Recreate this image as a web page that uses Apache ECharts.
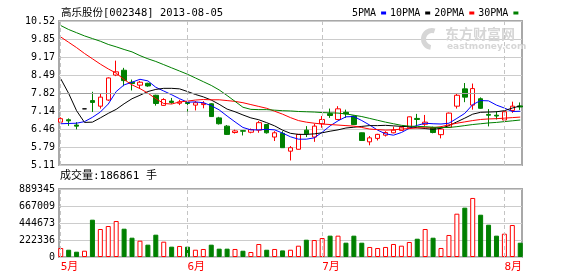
<!DOCTYPE html>
<html><head><meta charset="utf-8">
<script src="https://cdn.jsdelivr.net/npm/echarts@6/dist/echarts.min.js"></script>
<style>html,body{margin:0;padding:0;background:#fff}#c{width:578px;height:276px}</style>
</head><body><div id="c"></div>
<script>
// ---- data ----
const stockName = '高乐股份';
const stockCode = '002348';
const lastDate = '2013-08-05';
const dates = [
 '2013-05-10','2013-05-13','2013-05-14','2013-05-15','2013-05-16','2013-05-17','2013-05-20','2013-05-21','2013-05-22','2013-05-23','2013-05-24','2013-05-27','2013-05-28','2013-05-29','2013-05-30','2013-05-31',
 '2013-06-03','2013-06-04','2013-06-05','2013-06-06','2013-06-07','2013-06-13','2013-06-14','2013-06-17','2013-06-18','2013-06-19','2013-06-20','2013-06-21','2013-06-24','2013-06-25','2013-06-26','2013-06-27','2013-06-28',
 '2013-07-01','2013-07-02','2013-07-03','2013-07-04','2013-07-05','2013-07-08','2013-07-09','2013-07-10','2013-07-11','2013-07-12','2013-07-15','2013-07-16','2013-07-17','2013-07-18','2013-07-19','2013-07-22','2013-07-23','2013-07-24','2013-07-25','2013-07-26','2013-07-29','2013-07-30','2013-07-31',
 '2013-08-01','2013-08-02','2013-08-05'
];
const opens  = [6.72,6.81,6.61,7.22,7.53,7.32,7.55,8.49,8.67,8.22,8.11,8.18,7.73,7.35,7.51,7.43,7.46,7.36,7.38,7.41,6.88,6.57,6.33,6.40,6.34,6.42,6.63,6.16,6.30,5.63,5.70,6.42,6.16,6.66,7.04,6.82,7.09,6.95,6.32,5.98,6.11,6.23,6.32,6.41,6.51,6.86,6.64,6.52,6.25,6.53,7.32,7.97,7.36,7.60,7.01,6.98,6.80,7.16,7.33];
const closes = [6.85,6.77,6.57,7.22,7.46,7.66,8.38,8.61,8.28,8.17,8.22,8.08,7.42,7.57,7.46,7.48,7.42,7.45,7.43,6.93,6.66,6.26,6.39,6.38,6.44,6.70,6.32,6.32,5.76,5.76,6.26,6.28,6.57,6.82,6.97,7.22,7.03,6.63,6.03,6.13,6.26,6.33,6.42,6.53,6.92,6.82,6.72,6.33,6.46,7.06,7.73,7.66,7.98,7.24,6.98,6.95,7.11,7.32,7.29];
const lows   = [6.68,6.58,6.45,7.22,7.10,7.23,7.52,8.45,8.07,7.91,7.97,8.05,7.34,7.33,7.41,7.36,7.12,7.16,7.24,6.92,6.63,6.24,6.29,6.22,6.30,6.32,6.29,6.01,5.75,5.28,5.69,6.16,5.98,6.51,6.88,6.80,6.88,6.62,6.02,5.85,6.03,6.18,6.30,6.40,6.50,6.57,6.58,6.30,6.11,6.50,7.23,7.47,7.19,7.22,6.56,6.82,6.78,7.07,7.18];
const highs  = [6.90,6.86,6.72,7.22,7.86,7.79,8.40,9.03,8.76,8.32,8.27,8.20,7.75,7.62,7.63,7.56,7.47,7.51,7.51,7.43,6.92,6.61,6.44,6.42,6.48,6.76,6.64,6.38,6.38,5.82,6.27,6.57,6.66,6.95,7.23,7.32,7.19,6.97,6.33,6.20,6.28,6.38,6.55,6.57,6.93,7.03,6.99,6.55,6.48,7.08,7.78,8.19,8.17,7.65,7.21,7.13,7.12,7.49,7.46];
const volumes = [117650,95210,69400,82300,488100,366200,405300,471000,370100,252400,213200,161300,292000,200100,135200,144100,135000,95300,104800,161200,108900,109100,104900,82100,65200,170000,95100,104900,86300,95000,147900,226300,222100,248200,279300,279100,187200,279000,187100,131000,117900,131200,170100,148000,196300,239200,366100,252300,118000,288100,566300,645200,772100,553000,422200,279200,305100,418200,186861];
const ma5  = [6.66,6.67,6.68,6.74,6.90,7.10,7.40,7.87,8.12,8.22,8.33,8.27,8.03,7.89,7.75,7.60,7.47,7.48,7.45,7.34,7.18,6.95,6.73,6.52,6.43,6.43,6.45,6.43,6.31,6.17,6.08,6.08,6.13,6.34,6.58,6.77,6.92,6.93,6.78,6.61,6.42,6.28,6.23,6.33,6.49,6.60,6.68,6.66,6.65,6.68,6.86,7.05,7.38,7.53,7.52,7.36,7.25,7.12,7.13];
const ma10 = [8.35,7.80,7.15,6.71,6.72,6.88,7.05,7.20,7.41,7.60,7.73,7.87,7.95,7.99,7.99,7.97,7.87,7.76,7.67,7.55,7.39,7.21,7.11,6.99,6.88,6.81,6.70,6.58,6.42,6.30,6.26,6.26,6.28,6.32,6.38,6.43,6.50,6.53,6.56,6.59,6.59,6.60,6.58,6.56,6.55,6.51,6.48,6.45,6.49,6.59,6.73,6.87,7.02,7.09,7.10,7.11,7.15,7.25,7.33];
const ma20 = [9.92,9.72,9.52,9.30,9.10,8.90,8.72,8.56,8.32,8.12,7.98,7.81,7.60,7.42,7.40,7.48,7.51,7.55,7.57,7.56,7.56,7.53,7.50,7.45,7.38,7.31,7.24,7.13,7.02,6.89,6.78,6.72,6.68,6.65,6.63,6.61,6.59,6.57,6.52,6.46,6.44,6.42,6.43,6.46,6.48,6.50,6.51,6.51,6.55,6.62,6.68,6.73,6.78,6.82,6.84,6.85,6.87,6.89,6.91];
const ma30 = [10.35,10.20,10.08,9.96,9.86,9.76,9.64,9.55,9.45,9.36,9.22,9.10,9.00,8.88,8.76,8.64,8.52,8.38,8.24,8.10,7.93,7.72,7.50,7.28,7.20,7.19,7.19,7.17,7.15,7.14,7.12,7.11,7.10,7.08,7.07,7.06,7.03,6.98,6.93,6.86,6.79,6.72,6.66,6.60,6.57,6.56,6.55,6.53,6.52,6.52,6.55,6.59,6.63,6.66,6.69,6.71,6.74,6.77,6.80];
const priceTickLabels = ['5.11','5.79','6.46','7.14','7.82','8.49','9.17','9.85','10.52'];
const volTickLabels = ['0','222336','444673','667009','889345'];
const maNames = ['5PMA','10PMA','20PMA','30PMA'];
const maColors = ['#0000ff','#000000','#ff0000','#008000'];

// ---- derived ----
const monthIdx = [];
dates.forEach((d, i) => { if (i === 0 || d.slice(5,7) !== dates[i-1].slice(5,7)) monthIdx.push(i); });
const monthLabel = i => parseInt(dates[i].slice(5,7), 10) + '月';
const priceMin = 5.11, priceMax = 10.52, priceStep = (priceMax - priceMin) / 8;
const volMax = 889345, volStep = volMax / 4;
const N = dates.length;
const xMin = -0.218, xMax = N - 1 + 0.222;

const mono = "'DejaVu Sans Mono','Noto Sans CJK SC',monospace";
const up = i => closes[i] >= opens[i];

const chart = echarts.init(document.getElementById('c'), null, {renderer: 'canvas', width: 578, height: 276});
const maSeries = [ma5, ma10, ma20, ma30].map((arr, k) => ({
  name: maNames[k], type: 'line', xAxisIndex: 0, yAxisIndex: 0,
  data: arr.map((v, i) => [i, v]), symbol: 'none', showSymbol: false,
  lineStyle: {color: maColors[k], width: 1}, itemStyle: {color: maColors[k]},
  z: 4, silent: true
}));

chart.setOption({
  animation: false,
  backgroundColor: '#ffffff',
  legend: {
    data: maNames, left: 352, top: 8, padding: 0, align: 'right', icon: 'rect',
    itemWidth: 5, itemHeight: 3, itemGap: 4, selectedMode: false,
    textStyle: {fontFamily: mono, fontSize: 10, color: '#000', padding: 0}
  },
  grid: [
    {left: 59, top: 21, width: 463, height: 144, show: true, borderColor: '#a8a8a8', borderWidth: 2, backgroundColor: '#fff'},
    {left: 59, top: 189, width: 463, height: 68, show: true, borderColor: '#a8a8a8', borderWidth: 2, backgroundColor: '#fff'}
  ],
  xAxis: [
    {type: 'value', gridIndex: 0, min: xMin, max: xMax, axisLine: {show: false}, axisTick: {show: false}, axisLabel: {show: false}, splitLine: {show: false}},
    {type: 'value', gridIndex: 1, min: xMin, max: xMax, axisLine: {show: false}, axisTick: {show: false}, splitLine: {show: false},
     axisLabel: {show: true, customValues: monthIdx, formatter: v => monthLabel(Math.round(v)), color: '#ff0000',
                 fontFamily: mono, fontSize: 11, align: 'left', margin: 5, showMinLabel: true, showMaxLabel: true}}
  ],
  yAxis: [
    {type: 'value', gridIndex: 0, min: priceMin, max: priceMax, interval: priceStep,
     axisLine: {show: false}, axisTick: {show: false},
     axisLabel: {formatter: v => priceTickLabels[Math.round((v - priceMin) / priceStep)], color: '#000', fontFamily: mono, fontSize: 10, margin: 4, showMinLabel: true, showMaxLabel: true},
     splitLine: {show: true, lineStyle: {color: '#cccccc', width: 1}}},
    {type: 'value', gridIndex: 1, min: 0, max: volMax, interval: volStep,
     axisLine: {show: false}, axisTick: {show: false},
     axisLabel: {formatter: v => volTickLabels[Math.round(v / volStep)], color: '#000', fontFamily: mono, fontSize: 10, margin: 4, showMinLabel: true, showMaxLabel: true},
     splitLine: {show: true, lineStyle: {color: '#cccccc', width: 1}}}
  ],
  series: [
    {type: 'line', xAxisIndex: 0, yAxisIndex: 0, data: [], z: 1, silent: true,
     markLine: {silent: true, symbol: ['none','none'], label: {show: false},
       data: monthIdx.map(i => ({xAxis: i, lineStyle: {color: '#c4c4c4', type: [4,3], width: 1}}))
         .concat([{yAxis: priceMin + 4 * priceStep, lineStyle: {color: '#a0a0a0', type: 'solid', width: 1}}])}},
    {type: 'line', xAxisIndex: 1, yAxisIndex: 1, data: [], z: 1, silent: true,
     markLine: {silent: true, symbol: ['none','none'], label: {show: false},
       data: monthIdx.map(i => ({xAxis: i, lineStyle: {color: '#c4c4c4', type: [4,3], width: 1}}))}},
    {type: 'candlestick', xAxisIndex: 0, yAxisIndex: 0, z: 3, silent: true,
     data: dates.map((d, i) => [i, opens[i], closes[i], lows[i], highs[i]]),
     encode: {x: 0, y: [1, 2, 3, 4]}, barWidth: 5,
     itemStyle: {color: '#ffffff', color0: '#008000', borderColor: '#ff0000', borderColor0: '#008000', borderColorDoji: '#000000', borderWidth: 1}},
    {type: 'bar', xAxisIndex: 1, yAxisIndex: 1, barWidth: 5, z: 3, silent: true,
     data: volumes.map((v, i) => ({value: [i, v], itemStyle: up(i)
       ? {color: '#ffffff', borderColor: '#ff0000', borderWidth: 1}
       : {color: '#008000', borderColor: '#008000', borderWidth: 1}}))}
  ].concat(maSeries),
  graphic: [
    {type: 'text', left: 61, top: 8, z: 10, style: {text: stockName + '[' + stockCode + '] ' + lastDate, font: '10.5px ' + mono, fill: '#000'}},
    {type: 'text', left: 60, top: 171, z: 10, style: {text: '成交量:' + volumes[N-1] + ' 手', font: '11px ' + mono, fill: '#000'}},
    {type: 'sector', z: 1, shape: {cx: 432, cy: 39, r: 11, r0: 6, startAngle: Math.PI * 0.55, endAngle: Math.PI * 1.6}, style: {fill: '#d6d6d6'}},
    {type: 'text', left: 445, top: 27, z: 1, style: {text: '东方财富网', font: 'bold 14px "Noto Sans CJK SC"', fill: '#d6d6d6'}},
    {type: 'text', left: 447, top: 42, z: 1, style: {text: 'eastmoney.com', font: 'bold 9px "DejaVu Sans"', fill: '#d6d6d6'}}
  ]
});
</script>
</body></html>
